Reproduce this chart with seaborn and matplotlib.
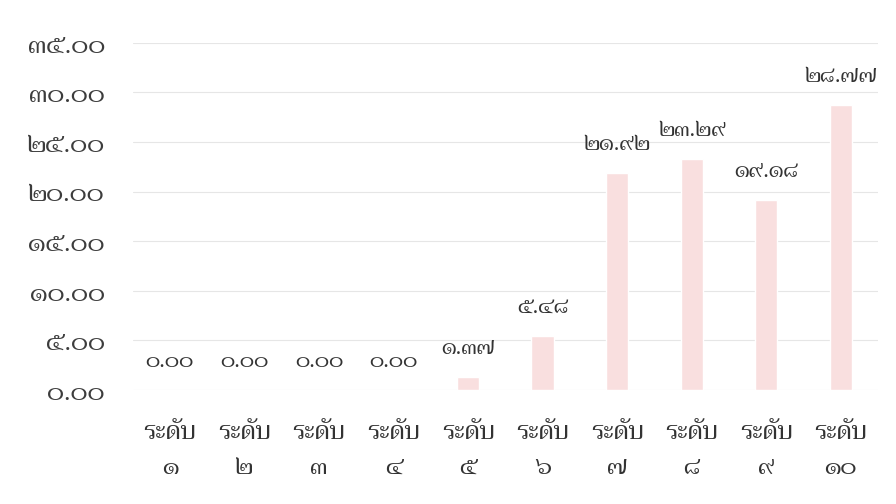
import numpy as np
import pandas as pd
import seaborn as sns
import matplotlib
matplotlib.use('Agg')
import matplotlib.pyplot as plt
from matplotlib import font_manager
from matplotlib.ft2font import FT2Font

# find an installed font with Thai glyphs (prefer a regular one)
thai_font = None
cands = []
for f in sorted(font_manager.findSystemFonts()):
    try:
        ft = FT2Font(f)
        if ft.get_char_index(ord('ร')) and ft.get_char_index(ord('๕')):
            cands.append(f)
    except Exception:
        pass
for f in cands:
    if 'Regular' in f or thai_font is None:
        thai_font = font_manager.FontProperties(fname=f).get_name()

levels = ['ระดับ\n๑', 'ระดับ\n๒', 'ระดับ\n๓', 'ระดับ\n๔', 'ระดับ\n๕',
          'ระดับ\n๖', 'ระดับ\n๗', 'ระดับ\n๘', 'ระดับ\n๙', 'ระดับ\n๑๐']
values = [0.00, 0.00, 0.00, 0.00, 1.37, 5.48, 21.92, 23.29, 19.18, 28.77]
yticks = [0, 5, 10, 15, 20, 25, 30, 35]

thai_digits = str.maketrans('0123456789', '๐๑๒๓๔๕๖๗๘๙')

def to_thai(v):
    return ('%.2f' % v).translate(thai_digits)

df = pd.DataFrame({'level': levels, 'value': values})

sns.set_style('white')
if thai_font:
    plt.rcParams['font.family'] = [thai_font, 'DejaVu Sans']

fig, ax = plt.subplots(figsize=(8.96, 5.04), dpi=100)
fig.subplots_adjust(left=0.148, right=0.98, top=0.915, bottom=0.226)

sns.barplot(data=df, x='level', y='value', color='#f9dfdf', width=0.3,
            saturation=1, ax=ax, zorder=2)

for i, v in enumerate(values):
    ax.text(i, v + 1.8, to_thai(v), ha='center', va='bottom',
            fontsize=16, color='#333333', fontweight='normal')

ax.set_ylim(0, 35)
ax.set_yticks(yticks)
ax.set_yticklabels([to_thai(t) for t in yticks], fontsize=19, color='#3c3c3c',
                   fontweight='normal')
for lab in ax.get_xticklabels():
    lab.set_linespacing(1.6)
    lab.set_fontweight('normal')
ax.tick_params(axis='x', labelsize=18, colors='#333333', length=0, pad=22)
ax.tick_params(axis='y', length=0, pad=20)
ax.yaxis.grid(True, color='#e6e6e6', linewidth=0.8, zorder=0)
ax.set_xlabel('')
ax.set_ylabel('')
sns.despine(ax=ax, left=True, bottom=True)

fig.savefig('out.png', dpi=100)
